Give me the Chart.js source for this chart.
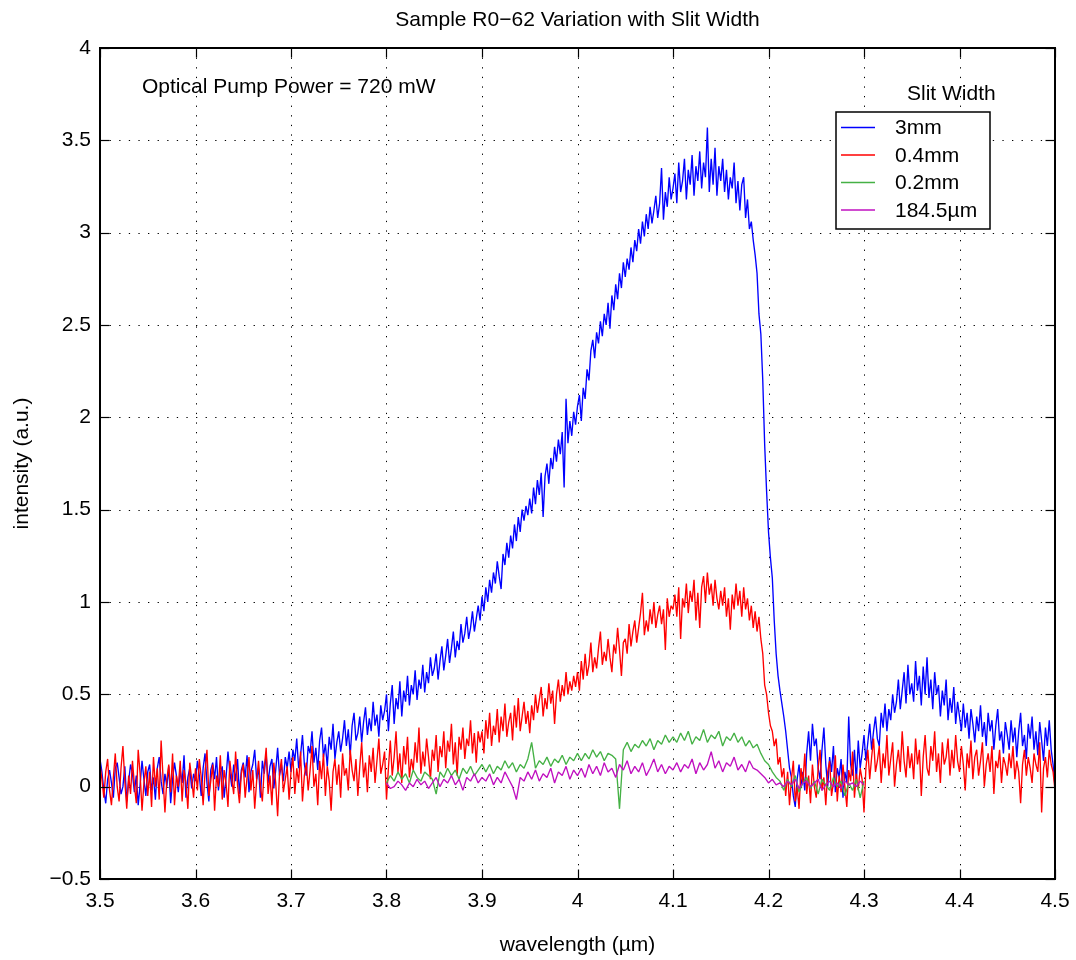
<!DOCTYPE html>
<html><head><meta charset="utf-8">
<script src="https://cdn.jsdelivr.net/npm/chart.js@4.4.0/dist/chart.umd.min.js"></script>
<style>html,body{margin:0;padding:0;background:#fff;}#wrap{width:1076px;height:960px;}</style>
</head><body><div id="wrap"><canvas id="c" width="1076" height="960"></canvas></div>
<script>
const chartTitle = 'Sample R0\u221262 Variation with Slit Width';
const xAxisTitle = 'wavelength (\u00b5m)';
const yAxisTitle = 'intensity (a.u.)';
const annotationText = 'Optical Pump Power = 720 mW';
const legendTitle = 'Slit Width';
const seriesLabels = ['3mm', '0.4mm', '0.2mm', '184.5\u00b5m'];
const seriesColors = ['#0000ff', '#ff0000', '#45b145', '#c010c0'];
const xTickLabels = ['3.5','3.6','3.7','3.8','3.9','4','4.1','4.2','4.3','4.4','4.5'];
const yTickLabels = ['\u22120.5','0','0.5','1','1.5','2','2.5','3','3.5','4'];

// sampling grids (wavelength, um)
const wideStart = 3.5, wideStep = 0.002;     // 3mm and 0.4mm: 3.5 .. 4.5
const narrowStart = 3.8, narrowStep = 0.004; // 0.2mm and 184.5um: 3.8 .. 4.3

const slit3mm = [
0.15,0.08,-0.02,-0.09,0.04,0.09,0.02,-0.06,0.1,0.13,0.05,-0.04,0.0,0.11,-0.08,0.03,0.12,0.07,-0.03,0.06,-0.1,0.01,0.14,0.04,-0.05,
0.08,0.12,-0.02,0.05,-0.07,0.1,0.16,0.03,-0.04,0.07,0.0,0.11,-0.09,0.04,0.13,0.06,-0.03,0.09,0.02,0.17,-0.06,0.05,0.1,-0.01,0.07,
0.03,0.14,0.06,-0.05,0.1,0.18,0.02,-0.08,0.09,0.13,0.04,0.16,-0.02,0.07,0.11,-0.06,0.05,0.19,0.08,0.0,0.12,0.03,0.15,-0.04,0.09,
0.13,0.05,0.17,-0.03,0.08,0.12,0.2,0.04,0.1,-0.06,0.14,0.07,0.18,0.02,0.11,0.15,-0.01,0.09,0.21,0.06,0.12,0.03,0.16,0.1,0.19,
0.08,0.2,0.14,0.26,0.1,0.17,0.28,0.12,0.06,0.22,0.18,0.3,0.13,0.21,0.09,0.25,0.32,0.16,0.23,0.11,0.27,0.2,0.34,0.15,0.24,
0.3,0.19,0.26,0.36,0.22,0.31,0.17,0.33,0.4,0.25,0.29,0.38,0.24,0.35,0.43,0.28,0.37,0.3,0.46,0.33,0.39,0.27,0.44,0.36,0.41,
0.5,0.3,0.45,0.55,0.34,0.48,0.42,0.57,0.38,0.52,0.46,0.6,0.44,0.55,0.5,0.63,0.47,0.58,0.53,0.66,0.51,0.62,0.56,0.7,0.6,
0.64,0.72,0.58,0.68,0.76,0.63,0.71,0.8,0.67,0.75,0.84,0.7,0.79,0.74,0.88,0.78,0.83,0.92,0.8,0.86,0.95,0.84,0.91,0.98,0.9,
1.03,0.95,1.08,1.0,1.12,1.05,1.16,1.1,1.22,1.14,1.07,1.26,1.2,1.32,1.24,1.36,1.29,1.42,1.33,1.46,1.38,1.5,1.44,1.52,1.47,
1.56,1.48,1.62,1.53,1.66,1.58,1.7,1.46,1.68,1.75,1.64,1.78,1.72,1.84,1.76,1.88,1.8,1.92,1.62,2.1,1.86,1.98,1.9,2.03,1.96,
2.06,2.12,1.98,2.16,2.1,2.26,2.2,2.36,2.42,2.32,2.46,2.4,2.52,2.44,2.56,2.5,2.62,2.48,2.66,2.58,2.72,2.64,2.78,2.7,2.84,
2.76,2.86,2.8,2.92,2.84,2.96,2.9,3.02,2.94,3.06,2.98,3.1,3.02,3.14,3.05,3.12,3.2,3.08,3.16,3.35,3.07,3.22,3.14,3.3,3.18,
3.24,3.32,3.16,3.38,3.22,3.28,3.4,3.18,3.34,3.26,3.42,3.2,3.36,3.28,3.44,3.24,3.38,3.3,3.57,3.22,3.4,3.26,3.46,3.2,3.36,
3.28,3.4,3.22,3.34,3.18,3.3,3.24,3.38,3.16,3.28,3.12,3.26,3.3,3.08,3.18,3.02,3.06,2.96,2.88,2.78,2.56,2.45,2.2,1.85,1.6,
1.38,1.24,1.13,0.9,0.72,0.6,0.52,0.45,0.38,0.3,0.2,0.1,0.05,-0.05,-0.11,0.04,0.12,0.0,0.08,-0.02,0.18,0.3,0.14,0.34,0.22,
0.26,0.1,0.04,0.2,0.32,0.12,0.0,0.16,0.08,0.22,-0.03,0.1,0.05,0.15,-0.06,0.08,0.02,0.38,0.12,0.06,0.2,0.03,0.25,0.1,0.18,
0.28,0.14,0.24,0.34,0.2,0.3,0.38,0.26,0.22,0.4,0.32,0.45,0.3,0.42,0.36,0.5,0.4,0.46,0.58,0.42,0.52,0.62,0.45,0.66,0.5,
0.56,0.46,0.68,0.52,0.6,0.44,0.65,0.5,0.7,0.48,0.58,0.42,0.62,0.5,0.55,0.38,0.52,0.44,0.58,0.36,0.48,0.4,0.54,0.34,0.46,
0.38,0.3,0.45,0.32,0.4,0.26,0.42,0.34,0.24,0.38,0.3,0.44,0.27,0.35,0.22,0.4,0.3,0.36,0.2,0.33,0.42,0.25,0.3,0.18,0.35,
0.28,0.2,0.36,0.24,0.32,0.16,0.3,0.4,0.22,0.28,0.15,0.34,0.26,0.38,0.2,0.3,0.17,0.35,0.25,0.14,0.32,0.22,0.36,0.2,0.12,
0.0
];
const slit04mm = [
0.12,0.04,-0.06,0.08,0.15,-0.02,-0.1,0.05,0.18,0.0,-0.08,0.1,0.22,0.03,-0.12,0.06,-0.04,0.14,0.01,-0.09,0.2,0.07,-0.13,0.02,0.11,
-0.05,0.08,-0.11,0.16,0.0,0.1,-0.07,0.25,0.05,-0.14,0.04,0.12,-0.03,0.18,-0.1,0.06,0.0,0.14,-0.08,0.09,0.02,-0.12,0.13,0.04,-0.06,
0.1,-0.02,0.15,0.05,-0.1,0.08,0.2,-0.05,0.03,0.12,-0.13,0.06,0.0,0.17,-0.07,0.09,0.02,-0.11,0.14,0.04,-0.04,0.19,0.01,-0.09,0.07,
0.12,-0.06,0.05,0.16,-0.02,0.09,-0.12,0.03,0.14,0.0,-0.08,0.1,0.21,-0.04,0.06,-0.1,0.13,0.02,-0.16,0.07,0.15,-0.03,0.04,0.11,-0.07,
0.08,0.16,-0.04,0.1,0.02,0.19,-0.08,0.06,0.13,-0.02,0.09,0.22,0.0,0.07,-0.1,0.14,0.04,0.18,-0.05,0.11,0.03,-0.13,0.08,0.15,0.01,
0.12,-0.06,0.18,0.06,0.1,-0.02,0.2,0.09,0.03,0.15,-0.05,0.11,0.24,0.05,0.13,-0.03,0.17,0.08,0.21,0.02,0.14,0.26,0.07,0.12,0.19,
-0.07,0.1,0.25,0.06,0.16,0.3,0.08,0.18,0.02,0.22,0.12,0.27,0.05,0.15,0.09,0.24,0.13,0.32,0.07,0.19,0.11,0.26,0.16,0.04,0.2,
0.14,0.28,0.08,0.22,0.16,0.3,0.1,0.25,0.19,0.34,0.12,0.24,0.06,0.27,0.2,0.32,0.15,0.26,0.22,0.36,0.18,0.29,0.13,0.3,0.24,
0.3,0.18,0.36,0.26,0.4,0.22,0.33,0.28,0.42,0.24,0.38,0.3,0.45,0.27,0.35,0.4,0.25,0.44,0.32,0.48,0.3,0.38,0.46,0.34,0.41,
0.29,0.44,0.36,0.5,0.4,0.47,0.54,0.38,0.48,0.42,0.56,0.45,0.52,0.34,0.5,0.58,0.46,0.55,0.49,0.62,0.5,0.57,0.52,0.6,0.54,
0.62,0.52,0.68,0.58,0.72,0.6,0.66,0.78,0.62,0.7,0.64,0.75,0.84,0.66,0.73,0.68,0.8,0.7,0.62,0.77,0.72,0.86,0.74,0.6,0.78,
0.8,0.72,0.88,0.76,0.84,0.9,0.78,0.86,0.94,1.05,0.82,0.9,0.84,0.96,0.88,1.0,0.86,0.93,0.98,0.88,0.96,0.74,1.02,0.92,0.98,
0.96,1.04,0.92,1.08,0.8,1.02,0.97,1.1,0.94,1.06,1.0,1.12,0.9,1.05,0.86,1.08,1.14,1.0,1.16,1.04,1.1,0.98,1.12,1.02,0.96,
1.06,0.98,1.08,0.92,1.02,0.85,1.04,0.96,1.1,0.98,1.06,0.92,1.08,0.96,1.02,0.9,0.98,0.86,0.95,0.84,0.92,0.8,0.72,0.55,0.5,
0.4,0.33,0.3,0.22,0.26,0.12,0.16,0.05,0.1,-0.05,0.08,-0.1,0.04,0.14,-0.08,0.0,-0.12,0.1,0.02,0.18,-0.04,0.06,-0.09,0.12,0.0,
-0.06,0.1,0.2,-0.02,0.05,-0.1,0.08,0.14,-0.05,0.02,0.17,-0.08,0.06,-0.03,0.12,0.0,-0.11,0.09,0.03,0.19,-0.06,0.07,-0.02,0.1,0.04,
-0.14,0.1,0.2,0.04,0.16,0.26,0.08,0.14,0.22,0.02,0.18,0.1,0.28,0.06,0.15,0.24,0.0,0.12,0.2,0.08,0.3,0.14,0.05,0.22,0.1,
0.18,0.04,0.26,0.12,0.2,-0.05,0.16,0.28,0.1,0.06,0.22,0.14,0.3,0.08,0.18,0.02,0.24,0.12,0.16,0.26,0.06,0.2,0.1,0.28,0.14,
0.08,0.22,0.12,-0.02,0.18,0.1,0.25,0.04,0.16,0.2,0.06,0.14,0.24,0.0,0.12,0.18,0.08,0.22,-0.04,0.14,0.1,0.2,0.02,0.16,0.12,
0.06,0.18,0.1,0.22,0.04,0.14,0.08,-0.09,0.12,0.2,0.06,0.16,0.1,0.02,0.18,0.12,0.08,0.24,-0.14,0.1,0.16,0.05,0.2,0.12,0.08,
-0.02
];
const slit02mm = [
0.02,0.06,0.03,0.08,0.04,0.07,0.02,0.09,0.05,0.03,0.08,0.06,0.04,
-0.04,
0.08,0.05,0.1,0.06,0.09,0.04,0.1,0.07,0.11,0.06,0.09,0.12,
0.08,0.12,0.07,0.11,0.09,0.14,0.1,0.13,0.08,0.12,0.1,0.15,
0.24,
0.1,0.14,0.12,0.16,0.11,0.15,0.13,0.17,0.12,0.16,0.14,0.18,
0.14,0.18,0.15,0.2,0.16,0.19,0.14,0.18,0.17,0.15,
-0.12,
0.2,0.24,0.19,0.23,0.21,0.25,0.22,0.26,0.2,0.25,0.23,0.28,0.24,0.27,
0.24,0.29,0.25,0.3,0.23,0.27,0.25,0.31,0.24,0.28,0.26,0.3,0.22,0.27,0.25,0.29,0.24,0.27,0.22,0.25,0.21,0.23,
0.18,0.14,0.12,0.08,0.05,
0.03,-0.02,0.04,0.0,0.06,-0.03,0.02,0.05,-0.01,0.03,-0.04,0.04,0.01,-0.02,0.05,0.0,0.03,-0.05,0.02,-0.02,0.04,-0.06,0.03
];
const slit1845um = [
0.02,-0.01,0.0,0.03,0.01,-0.02,0.02,0.0,0.04,0.01,0.03,-0.01,0.02,
0.05,0.0,0.04,0.02,0.06,0.01,0.04,-0.02,0.05,0.03,0.07,0.02,0.05,
0.03,0.07,0.01,0.05,0.02,0.08,0.04,0.0,-0.07,0.05,0.03,0.08,
0.04,0.09,0.03,0.07,0.05,0.1,0.02,0.08,0.06,0.11,0.04,0.09,0.06,
0.1,0.05,0.12,0.07,0.11,0.06,0.13,0.08,0.1,0.05,0.12,0.09,0.14,0.07,0.11,0.08,0.13,0.06,0.1,0.15,0.08,0.12,0.07,0.11,0.09,
0.13,0.08,0.12,0.1,0.15,0.07,0.13,0.09,0.12,0.19,0.1,0.14,0.08,0.13,0.11,0.16,0.09,0.12,0.08,0.14,0.1,0.09,
0.07,0.05,0.02,0.04,0.01,
0.02,0.0,0.03,0.01,0.04,-0.01,0.02,0.03,0.0,0.02,0.04,-0.02,0.01,0.03,0.0,0.02,-0.01,0.03,0.01,0.02,0.0,0.03,0.01
];

function toPoints(values, start, step) {
  return values.map((v, i) => ({ x: +(start + i * step).toFixed(4), y: v }));
}

const FONT = '"Liberation Sans", Arial, Helvetica, sans-serif';

const decor = {
  id: 'decor',
  beforeDraw(chart) {
    const c = chart.ctx;
    c.save(); c.fillStyle = '#fff'; c.fillRect(0, 0, chart.width, chart.height); c.restore();
  },
  beforeDatasetsDraw(chart) {
    const c = chart.ctx, a = chart.chartArea, xs = chart.scales.x, ys = chart.scales.y;
    c.save();
    c.strokeStyle = '#000'; c.lineWidth = 1; c.setLineDash([1.3, 8.3]);
    xs.ticks.forEach(t => {
      const px = Math.round(xs.getPixelForValue(t.value)) + 0.5;
      if (px < a.left + 2 || px > a.right - 2) return;
      c.beginPath(); c.moveTo(px, a.top); c.lineTo(px, a.bottom); c.stroke();
    });
    ys.ticks.forEach(t => {
      const py = Math.round(ys.getPixelForValue(t.value)) + 0.5;
      if (py < a.top + 2 || py > a.bottom - 2) return;
      c.beginPath(); c.moveTo(a.left, py); c.lineTo(a.right, py); c.stroke();
    });
    c.restore();
  },
  afterDatasetsDraw(chart) {
    const c = chart.ctx, a = chart.chartArea, xs = chart.scales.x, ys = chart.scales.y;
    const tl = 9.5;
    c.save();
    c.setLineDash([]);
    c.strokeStyle = '#000'; c.lineWidth = 1.2;
    xs.ticks.forEach(t => {
      const px = Math.round(xs.getPixelForValue(t.value)) + 0.5;
      c.beginPath(); c.moveTo(px, a.bottom); c.lineTo(px, a.bottom - tl); c.stroke();
      c.beginPath(); c.moveTo(px, a.top); c.lineTo(px, a.top + tl); c.stroke();
    });
    ys.ticks.forEach(t => {
      const py = Math.round(ys.getPixelForValue(t.value)) + 0.5;
      c.beginPath(); c.moveTo(a.left, py); c.lineTo(a.left + tl, py); c.stroke();
      c.beginPath(); c.moveTo(a.right, py); c.lineTo(a.right - tl, py); c.stroke();
    });
    c.lineWidth = 2;
    c.strokeRect(a.left, a.top, a.right - a.left, a.bottom - a.top);

    c.fillStyle = '#000';
    c.font = '21px ' + FONT;
    c.textAlign = 'center'; c.textBaseline = 'alphabetic';
    c.fillText(chartTitle, (a.left + a.right) / 2, 26);
    c.fillText(xAxisTitle, (a.left + a.right) / 2, 951);
    c.save();
    c.translate(22, (a.top + a.bottom) / 2);
    c.rotate(-Math.PI / 2);
    c.textBaseline = 'middle';
    c.fillText(yAxisTitle, 0, 0);
    c.restore();
    c.textAlign = 'left'; c.textBaseline = 'alphabetic';
    c.fillText(annotationText, a.left + 42, 93);
    c.fillText(legendTitle, 907, 100);
    const bx = 836, by = 112, bw = 154, bh = 117;
    c.fillStyle = '#fff'; c.fillRect(bx, by, bw, bh);
    c.lineWidth = 1.5; c.strokeStyle = '#000'; c.strokeRect(bx, by, bw, bh);
    chart.data.datasets.forEach((ds, k) => {
      const ry = by + 15.5 + k * 27.5;
      c.strokeStyle = ds.borderColor; c.lineWidth = 1.3;
      c.beginPath(); c.moveTo(841, ry); c.lineTo(875, ry); c.stroke();
      c.fillStyle = '#000'; c.textBaseline = 'middle'; c.textAlign = 'left';
      c.fillText(ds.label, 895, ry + 1);
    });
    c.restore();
  }
};

const datasets = [
  { label: seriesLabels[0], data: toPoints(slit3mm, wideStart, wideStep), borderColor: seriesColors[0], order: 3 },
  { label: seriesLabels[1], data: toPoints(slit04mm, wideStart, wideStep), borderColor: seriesColors[1], order: 2 },
  { label: seriesLabels[2], data: toPoints(slit02mm, narrowStart, narrowStep), borderColor: seriesColors[2], order: 1 },
  { label: seriesLabels[3], data: toPoints(slit1845um, narrowStart, narrowStep), borderColor: seriesColors[3], order: 0 }
].map(d => Object.assign(d, { borderWidth: 1.35, pointRadius: 0, tension: 0, fill: false, borderJoinStyle: 'bevel' }));

new Chart(document.getElementById('c'), {
  type: 'line',
  data: { datasets },
  options: {
    responsive: false,
    animation: false,
    events: [],
    layout: { padding: { top: 48, right: 21, left: 0, bottom: 0 } },
    plugins: { legend: { display: false }, title: { display: false }, tooltip: { enabled: false } },
    scales: {
      x: {
        type: 'linear', min: 3.5, max: 4.5,
        grid: { display: false, drawTicks: false },
        border: { display: false },
        ticks: {
          stepSize: 0.1, padding: 10, color: '#000', maxRotation: 0, autoSkip: false,
          font: { size: 21, family: FONT },
          callback: (v) => xTickLabels[Math.round((v - 3.5) / 0.1)]
        },
        afterFit: (s) => { s.height = 81; s.paddingLeft = 0; s.paddingRight = 0; }
      },
      y: {
        type: 'linear', min: -0.5, max: 4,
        grid: { display: false, drawTicks: false },
        border: { display: false },
        ticks: {
          stepSize: 0.5, padding: 9, color: '#000', autoSkip: false,
          font: { size: 21, family: FONT },
          callback: (v) => yTickLabels[Math.round((v + 0.5) / 0.5)]
        },
        afterFit: (s) => { s.width = 100; s.paddingTop = 0; s.paddingBottom = 0; }
      }
    }
  },
  plugins: [decor]
});
</script>
</body></html>
